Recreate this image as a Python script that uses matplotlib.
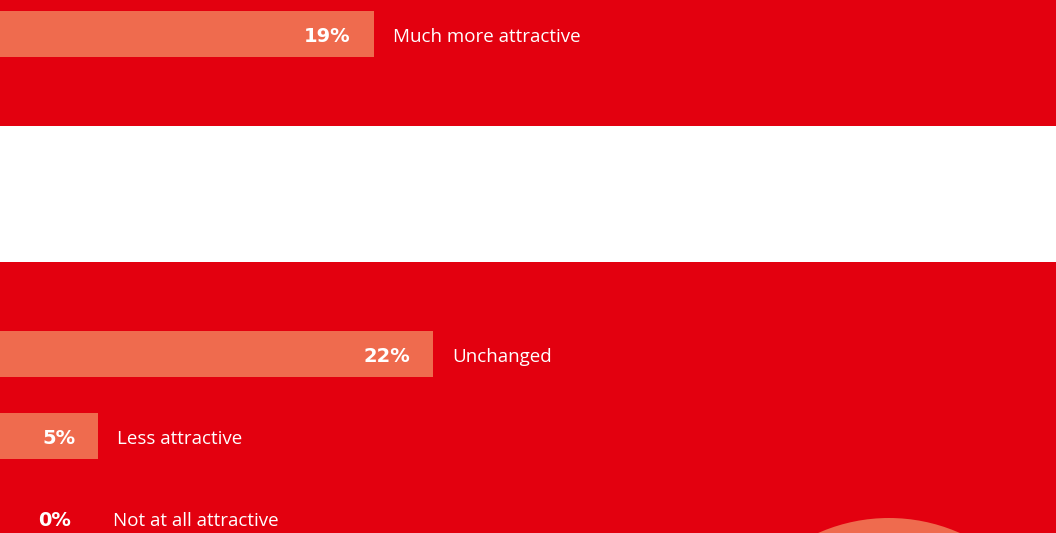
import matplotlib
matplotlib.use("Agg")
import matplotlib.pyplot as plt
from matplotlib.patches import Ellipse

# survey answers, top to bottom
answers = ["Much more attractive", "Unchanged", "Less attractive", "Not at all attractive"]
shares = [19, 22, 5, 0]

# layout (y in pixels from the top, x in percent)
row_y = [34, 354, 436, 518]
bar_h = 46
px_per_pct = 19.68
W, H = 1056, 533

RED = "#E3000F"
SALMON = "#EF6B4E"

plt.rcParams["font.family"] = ["Open Sans", "DejaVu Sans"]

fig = plt.figure(figsize=(W / 100, H / 100), dpi=100)
fig.patch.set_facecolor(RED)
ax = fig.add_axes([0, 0, 1, 1])
ax.set_facecolor(RED)
ax.set_xlim(0, W / px_per_pct)
ax.set_ylim(H, 0)
ax.axis("off")

# white separator band
ax.axhspan(126, 262, color="white", lw=0)

# decorative circle in the corner
ax.add_patch(Ellipse((889 / px_per_pct, 693), 2 * 175 / px_per_pct, 350,
                     color=SALMON, lw=0))

ax.barh(row_y, shares, height=bar_h, color=SALMON, lw=0)

min_anchor = 94 / px_per_pct
for name, val, y in zip(answers, shares, row_y):
    anchor = max(val, min_anchor)
    ax.text(anchor - 23 / px_per_pct, y + 8, f"{val}%", ha="right", va="baseline",
            color="white", fontsize=14, fontweight="bold", family="DejaVu Sans")
    ax.text(anchor + 19 / px_per_pct, y + 8, name, ha="left", va="baseline",
            color="white", fontsize=13.5)

fig.savefig("out.png", dpi=100, facecolor=RED)
